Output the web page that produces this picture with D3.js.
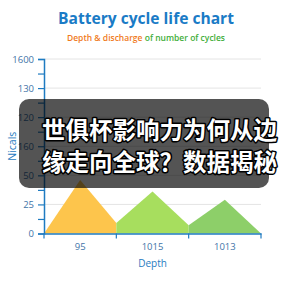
<!DOCTYPE html>
<html>
<head>
<meta charset="utf-8">
<script src="https://cdn.jsdelivr.net/npm/d3@7"></script>
<style>
	html, body { margin: 0; padding: 0; background: #fff; }
	svg { display: block; }
</style>
</head>
<body>
<svg id="chart"></svg>
<script>
	'use strict';

	// chart values
	var categories = ['95', '1015', '1013'];
	var peakValues = [46, 36, 29];
	var edgeValues = [0, 9, 7, 0]; // value at each band boundary
	var yTickValues = [0, 25, 50, 75, 100, 125, 150];
	var yTickLabels = ['0', '25', '50', '160', '120', '130', '1600'];
	var fillColors = ['#fdc54c', '#a7de5e', '#8dcf69'];
	var overlayLines = ['世俱杯影响力为何从边', '缘走向全球？数据揭秘'];

	var width = 288, height = 288;
	var margin = {top: 59, right: 27, bottom: 54.5, left: 44};

	var svg = d3.select('#chart')
		.attr('width', width)
		.attr('height', height);

	var x = d3.scaleBand()
		.domain(categories)
		.range([margin.left, width - margin.right])
		.padding(0);

	var y = d3.scaleLinear()
		.domain([0, 150])
		.range([height - margin.bottom, margin.top]);

	var axisColor = '#1f7bc1';
	var labelColor = '#3f74a8';

	// title
	svg.append('text')
		.attr('x', 146)
		.attr('y', 24)
		.attr('text-anchor', 'middle')
		.attr('font-family', 'Open Sans, sans-serif')
		.attr('font-weight', 'bold')
		.attr('font-size', 15.6)
		.attr('fill', '#1a7bc6')
		.text('Battery cycle life chart');

	var sub = svg.append('text')
		.attr('x', 146)
		.attr('y', 41)
		.attr('text-anchor', 'middle')
		.attr('font-family', 'Open Sans, sans-serif')
		.attr('font-weight', 600)
		.attr('font-size', 8.5);
	sub.append('tspan').attr('fill', '#f07a1c').text('Depth & discharge');
	sub.append('tspan').attr('fill', '#3fae3a').text(' of number of cycles');

	// grid lines
	svg.append('g')
		.selectAll('line')
		.data(yTickValues.slice(1))
		.join('line')
		.attr('x1', x.range()[0])
		.attr('x2', x.range()[1])
		.attr('y1', function (d) { return y(d); })
		.attr('y2', function (d) { return y(d); })
		.attr('stroke', '#e4e4e4')
		.attr('stroke-width', 1);

	// one area per category, split at band edges
	var area = d3.area()
		.x(function (d) { return d.x; })
		.y0(y(0))
		.y1(function (d) { return y(d.v); });

	categories.forEach(function (c, i) {
		var x0 = x(c), bw = x.bandwidth();
		var pts = [
			{x: x0, v: edgeValues[i]},
			{x: x0 + bw / 2, v: peakValues[i]},
			{x: x0 + bw, v: edgeValues[i + 1]}
		];
		svg.append('path')
			.datum(pts)
			.attr('fill', fillColors[i])
			.attr('d', area);
	});

	// y axis with minor ticks
	var yAxis = svg.append('g')
		.attr('transform', 'translate(' + margin.left + ',0)')
		.call(d3.axisLeft(y)
			.tickValues(d3.range(0, 151, 12.5))
			.tickSize(6)
			.tickPadding(4)
			.tickFormat(function (d) {
				var k = yTickValues.indexOf(d);
				return k >= 0 ? yTickLabels[k] : '';
			}));
	yAxis.select('.domain').attr('stroke', axisColor).attr('stroke-width', 1.5);
	yAxis.selectAll('.tick line').attr('stroke', axisColor).attr('stroke-width', 1.2);
	yAxis.selectAll('.tick text')
		.attr('fill', labelColor)
		.attr('font-family', 'Open Sans, sans-serif')
		.attr('font-size', 9.5);

	// x axis
	var xAxis = svg.append('g')
		.attr('transform', 'translate(0,' + y(0) + ')')
		.call(d3.axisBottom(x).tickSize(0).tickPadding(10));
	xAxis.select('.domain').attr('stroke', axisColor).attr('stroke-width', 1.5);
	xAxis.selectAll('.tick text')
		.attr('fill', labelColor)
		.attr('font-family', 'Open Sans, sans-serif')
		.attr('font-size', 9.5);
	// band edge ticks
	xAxis.append('g')
		.selectAll('line')
		.data(categories.map(function (c) { return x(c); }).concat([x.range()[1]]))
		.join('line')
		.attr('x1', function (d) { return d; })
		.attr('x2', function (d) { return d; })
		.attr('y1', 0)
		.attr('y2', 5)
		.attr('stroke', axisColor)
		.attr('stroke-width', 1.2);

	// axis titles
	svg.append('text')
		.attr('transform', 'translate(12,' + ((y(0) + y(150)) / 2) + ') rotate(-90)')
		.attr('text-anchor', 'middle')
		.attr('dominant-baseline', 'central')
		.attr('font-family', 'Open Sans, sans-serif')
		.attr('font-size', 10.5)
		.attr('fill', axisColor)
		.text('Nicals');

	svg.append('text')
		.attr('x', (x.range()[0] + x.range()[1]) / 2)
		.attr('y', 267)
		.attr('text-anchor', 'middle')
		.attr('font-family', 'Open Sans, sans-serif')
		.attr('font-size', 10)
		.attr('fill', axisColor)
		.text('Depth');

	// dark caption overlay
	svg.append('rect')
		.attr('x', 19)
		.attr('y', 99)
		.attr('width', 250)
		.attr('height', 89)
		.attr('rx', 10)
		.attr('fill', 'rgba(0,0,0,0.67)');

	svg.append('g')
		.selectAll('text')
		.data(overlayLines)
		.join('text')
		.attr('x', 42)
		.attr('y', function (d, i) { return 129 + i * 32; })
		.attr('dominant-baseline', 'central')
		.attr('font-family', 'Noto Sans CJK SC, sans-serif')
		.attr('font-weight', 'bold')
		.attr('font-size', 23.5)
		.attr('fill', '#fff')
		.attr('stroke', '#000')
		.attr('stroke-width', 3)
		.attr('stroke-linejoin', 'round')
		.attr('paint-order', 'stroke')
		.text(function (d) { return d; });
</script>
</body>
</html>
